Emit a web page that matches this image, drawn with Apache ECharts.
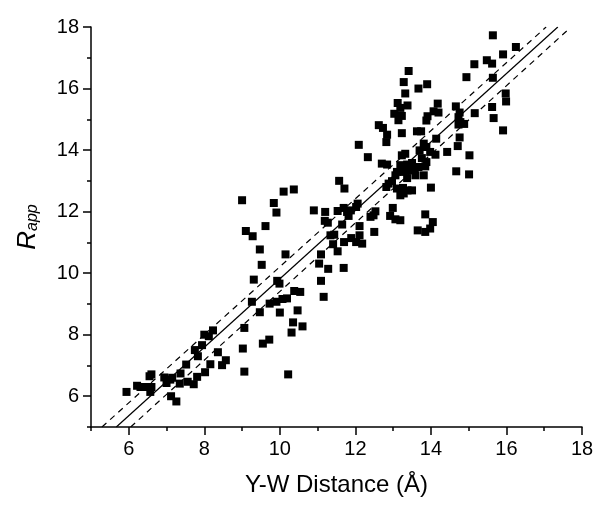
<!DOCTYPE html>
<html>
<head>
<meta charset="utf-8">
<script src="https://cdn.jsdelivr.net/npm/echarts@6/dist/echarts.min.js"></script>
<style>html,body{margin:0;padding:0;background:#fff}#c{width:600px;height:517px}</style>
</head>
<body>
<div id="c"></div>
<script>
// Scatter points: [Y-W distance (Å), R_app]
const lowerCluster = [[5.94,6.14],[6.22,6.34],[6.31,6.30],[6.44,6.30],[6.55,6.65],[6.60,6.71],[6.60,6.30],[6.57,6.14],[6.94,6.61],[7.00,6.43],[7.10,6.54],[7.15,6.60],[7.12,6.00],[7.26,5.83],[7.35,6.41],[7.37,6.74],[7.52,7.03],[7.56,6.47],[7.72,6.39],[7.75,7.50],[7.81,6.63],[7.83,7.30],[7.94,7.66],[8.00,8.00],[8.02,6.78],[8.12,7.95],[8.16,7.04],[8.23,8.14],[8.36,7.43],[8.47,7.01],[8.57,7.17]];
const middleCluster = [[9.02,7.55],[9.06,8.22],[9.06,6.80],[9.31,9.79],[9.26,9.07],[9.47,10.77],[9.52,10.27],[9.47,8.73],[9.55,7.71],[9.72,7.84],[9.73,9.01],[9.93,9.75],[9.99,9.66],[9.91,9.07],[10.00,8.72],[10.07,9.16],[10.19,9.18],[10.15,10.61],[10.22,6.71],[10.31,8.07],[10.35,8.40],[10.38,9.42],[10.47,8.79],[10.54,9.39],[10.60,8.27]];
const upperMidCluster = [[9.00,12.37],[9.84,12.28],[9.91,11.97],[10.10,12.65],[10.37,12.72],[9.62,11.53],[9.10,11.37],[9.28,11.20],[11.04,10.31],[11.09,10.61],[11.09,9.75],[11.16,9.23],[11.28,10.14],[11.41,10.94],[11.53,10.71],[10.90,12.04],[11.20,11.99],[11.19,11.70],[11.27,11.64],[11.53,12.02],[11.69,12.12],[11.78,11.99],[11.88,12.04],[11.82,11.86],[12.02,12.15],[11.65,11.58],[11.34,11.23],[11.44,11.25],[11.70,11.01],[11.89,11.14],[12.02,11.01],[12.11,11.23],[12.18,10.96],[11.69,10.17],[12.11,11.53],[12.40,11.83],[12.53,12.01],[12.48,11.88],[12.50,11.34],[12.99,12.12],[12.92,11.86],[13.06,11.75],[13.19,11.72],[13.85,11.91],[14.05,11.66],[13.98,11.45],[13.85,11.34],[13.65,11.39]];
const upperCluster = [[13.41,16.57],[13.28,16.21],[13.67,16.00],[13.90,16.14],[13.32,15.84],[13.12,15.53],[13.38,15.45],[13.19,15.37],[13.03,15.18],[13.23,15.11],[13.14,14.97],[14.18,15.51],[14.07,15.26],[14.20,15.22],[13.91,15.10],[13.88,14.96],[12.62,14.81],[12.73,14.72],[12.84,14.50],[12.82,14.26],[13.23,14.55],[13.63,14.61],[13.74,14.61],[12.09,14.17],[12.33,13.77],[12.70,13.56],[12.84,13.53],[13.23,13.83],[13.32,13.88],[13.19,13.51],[13.37,13.53],[13.50,13.58],[13.70,13.99],[13.81,14.21],[13.88,14.10],[13.98,13.94],[14.12,13.85],[14.14,14.37],[14.43,13.94],[13.76,13.74],[13.88,13.61],[13.85,13.47],[13.10,13.29],[13.28,13.29],[13.45,13.34],[13.57,13.38],[13.67,13.45],[13.06,13.18],[13.37,13.09],[13.59,13.18],[12.97,12.99],[12.88,12.91],[12.82,12.80],[13.10,12.75],[13.26,12.77],[13.38,12.69],[13.50,12.69],[13.28,12.59],[13.19,12.53],[13.81,13.18],[14.00,12.78],[11.57,13.00],[11.71,12.75],[12.06,12.26]];
const rightCluster = [[15.64,17.73],[16.25,17.35],[15.91,17.11],[15.15,16.79],[15.48,16.92],[15.62,16.81],[14.94,16.37],[15.64,16.35],[15.98,15.84],[15.99,15.58],[15.62,15.40],[15.66,15.04],[15.91,14.64],[15.16,15.20],[14.66,15.42],[14.76,15.22],[14.73,15.07],[14.78,14.91],[14.88,14.85],[14.73,14.83],[14.76,14.41],[14.71,14.13],[15.02,13.83],[14.67,13.31],[15.01,13.21]];

// Fit line and band endpoints
const fitLine = [[5.67,5],[17.36,18]];
const upperBand = [[5.29,5],[17.05,18]];
const lowerBand = [[6.05,5],[17.64,17.92]];

// Ticks
const majorTicks = [6,8,10,12,14,16,18];
const minorTicks = [5,7,9,11,13,15,17];

const FONT = 'Liberation Sans, Arial, Helvetica, sans-serif';
const allPoints = [].concat(lowerCluster, middleCluster, upperMidCluster, upperCluster, rightCluster);

const chart = echarts.init(document.getElementById('c'), null, {renderer: 'canvas'});
const axisLineStyle = {color: '#000', width: 1.5};
function mainAxis(isX) {
  return {
    type: 'value', min: 5, max: 18, position: isX ? 'bottom' : 'left', offset: 0,
    axisLine: {show: true, onZero: false, lineStyle: axisLineStyle},
    axisTick: {show: true, inside: false, length: 8, lineStyle: {color: '#000', width: 1.5}, customValues: majorTicks},
    axisLabel: {show: true, customValues: majorTicks, color: '#000', fontSize: 20, fontFamily: FONT, margin: 12},
    splitLine: {show: false},
    name: isX ? 'Y-W Distance (Å)' : '{r|R}{s|app}',
    nameLocation: 'middle',
    nameGap: isX ? 46 : 50,
    nameTextStyle: isX ? {color: '#000', fontSize: 24, fontFamily: FONT} : {
      color: '#000', fontFamily: FONT,
      rich: {
        r: {fontSize: 26, fontStyle: 'italic', fontFamily: FONT, color: '#000', verticalAlign: 'bottom', lineHeight: 30},
        s: {fontSize: 16, fontStyle: 'italic', fontFamily: FONT, color: '#000', verticalAlign: 'bottom', lineHeight: 22}
      }
    }
  };
}
function minorAxis(isX) {
  return {
    type: 'value', min: 5, max: 18, position: isX ? 'bottom' : 'left', offset: 0,
    axisLine: {show: false, onZero: false},
    axisTick: {show: true, inside: false, length: 4, lineStyle: {color: '#000', width: 1.5}, customValues: minorTicks},
    axisLabel: {show: false},
    splitLine: {show: false}
  };
}

const lineStyleBase = {color: '#000', width: 1.2};
chart.setOption({
  animation: false,
  backgroundColor: '#fff',
  grid: {left: 91, right: 18, top: 27, bottom: 90, containLabel: false},
  xAxis: [mainAxis(true), minorAxis(true)],
  yAxis: [mainAxis(false), minorAxis(false)],
  series: [
    {type: 'scatter', xAxisIndex: 0, yAxisIndex: 0, data: allPoints, symbol: 'rect', symbolSize: 8,
     itemStyle: {color: '#000', opacity: 1}, z: 2},
    {type: 'line', xAxisIndex: 0, yAxisIndex: 0, data: fitLine, showSymbol: false, symbol: 'none',
     lineStyle: Object.assign({}, lineStyleBase, {type: 'solid'}), z: 3},
    {type: 'line', xAxisIndex: 0, yAxisIndex: 0, data: upperBand, showSymbol: false, symbol: 'none',
     lineStyle: Object.assign({}, lineStyleBase, {type: [6, 5]}), z: 3},
    {type: 'line', xAxisIndex: 0, yAxisIndex: 0, data: lowerBand, showSymbol: false, symbol: 'none',
     lineStyle: Object.assign({}, lineStyleBase, {type: [6, 5]}), z: 3}
  ]
});
</script>
</body>
</html>
